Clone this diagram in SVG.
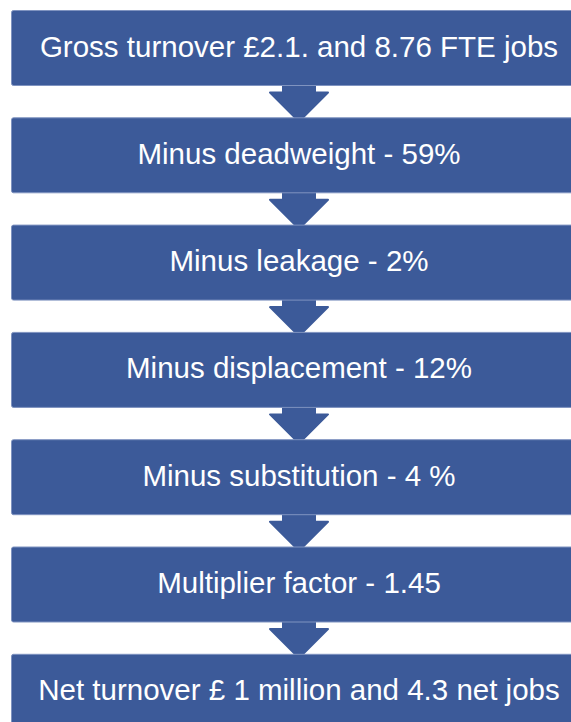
<svg xmlns="http://www.w3.org/2000/svg" width="571" height="722" viewBox="0 0 571 722">
<defs>
<style>
.box{fill:#3C5A99;stroke:#7F93C0;stroke-width:1}
.arr{fill:#3C5A99;stroke:#3C5A99;stroke-width:2;stroke-linejoin:round}
.lbl{font-family:"Liberation Sans",Arial,sans-serif;font-size:29.5px;fill:#FFFFFF;text-anchor:middle}
</style>
<path id="arrowShape" d="M-16,-8 L16,-8 L16,7.5 L29,7.5 L0,36.5 L-29,7.5 L-16,7.5 Z"/>
</defs>
<rect width="571" height="722" fill="#FFFFFF"/>
<g id="connectors">
<use href="#arrowShape" class="arr" x="299" y="85"/>
<use href="#arrowShape" class="arr" x="299" y="192.3"/>
<use href="#arrowShape" class="arr" x="299" y="299.6"/>
<use href="#arrowShape" class="arr" x="299" y="406.9"/>
<use href="#arrowShape" class="arr" x="299" y="514.2"/>
<use href="#arrowShape" class="arr" x="299" y="621.5"/>
</g>
<g id="n1"><rect class="box" x="11.5" y="10.5" width="580" height="75" rx="2"/><text class="lbl" x="299" y="56.5">Gross turnover £2.1. and 8.76 FTE jobs</text></g>
<g id="n2"><rect class="box" x="11.5" y="117.8" width="580" height="75" rx="2"/><text class="lbl" x="299" y="163.8">Minus deadweight - 59%</text></g>
<g id="n3"><rect class="box" x="11.5" y="225.1" width="580" height="75" rx="2"/><text class="lbl" x="299" y="271.1">Minus leakage - 2%</text></g>
<g id="n4"><rect class="box" x="11.5" y="332.4" width="580" height="75" rx="2"/><text class="lbl" x="299" y="378.4">Minus displacement - 12%</text></g>
<g id="n5"><rect class="box" x="11.5" y="439.7" width="580" height="75" rx="2"/><text class="lbl" x="299" y="485.7">Minus substitution - 4 %</text></g>
<g id="n6"><rect class="box" x="11.5" y="547" width="580" height="75" rx="2"/><text class="lbl" x="299" y="593">Multiplier factor - 1.45</text></g>
<g id="n7"><rect class="box" x="11.5" y="654.3" width="580" height="75" rx="2"/><text class="lbl" x="299" y="700.3">Net turnover £ 1 million and 4.3 net jobs</text></g>
</svg>
